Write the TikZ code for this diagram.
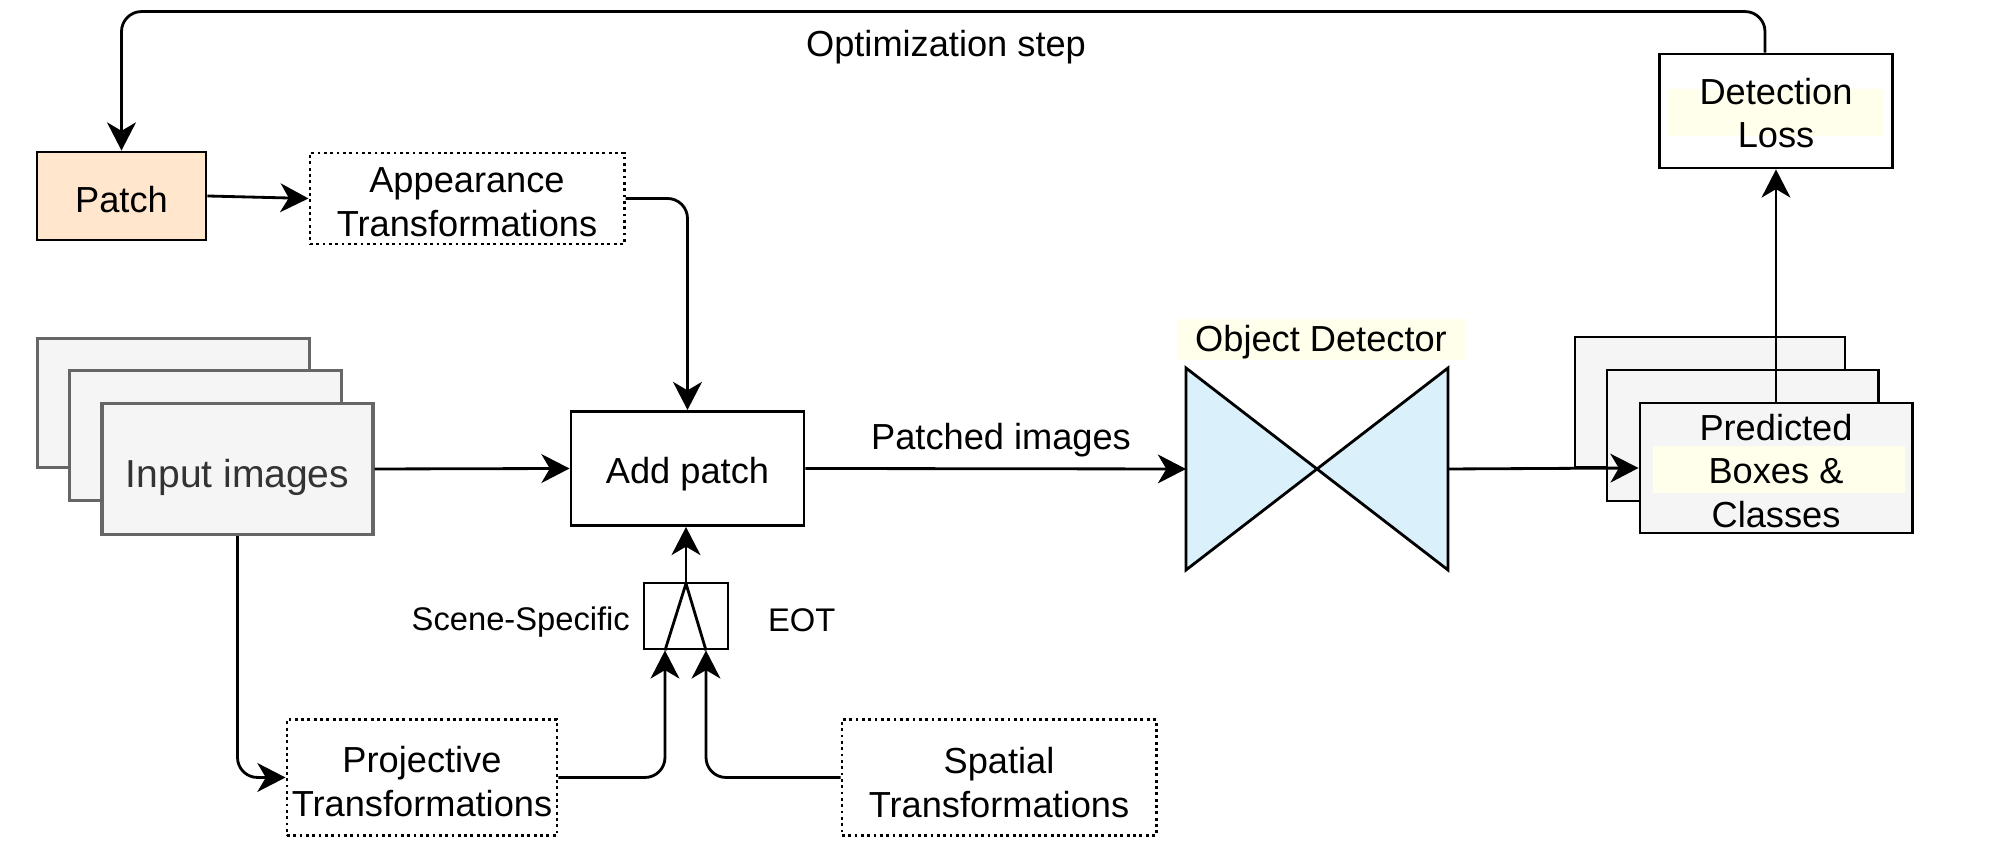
\documentclass[tikz,border=0pt]{standalone}
\usepackage{fontspec}
\setmainfont{Liberation Sans}
\usetikzlibrary{arrows.meta}
\definecolor{peach}{RGB}{255,230,204}
\definecolor{lgray}{RGB}{245,245,245}
\definecolor{dgray}{RGB}{102,102,102}
\definecolor{tgray}{RGB}{51,51,51}
\definecolor{lblue}{RGB}{218,240,250}
\definecolor{hilite}{RGB}{255,255,236}
\begin{document}
\begin{tikzpicture}[x=0.01cm,y=-0.01cm,
  every node/.style={font=\fontsize{10.3}{12.4}\selectfont, align=center, inner sep=0pt},
  box/.style={draw, line width=0.8pt},
  dotbox/.style={draw, densely dotted, line width=0.8pt},
  conn/.style={line width=0.8pt, -{Stealth[length=8pt,width=8.2pt,inset=2.4pt]}, rounded corners=0.2cm},
  plain/.style={line width=0.8pt},
  sidelbl/.style={font=\fontsize{9.3}{11}\selectfont},
  imgbox/.style={draw=dgray, fill=lgray, line width=0.9pt},
  predbox/.style={draw, fill=lgray, line width=0.8pt}]
\useasboundingbox (0,0) rectangle (2005,865);

% Patch and appearance
\node[box, fill=peach, minimum width=1.69cm, minimum height=0.88cm] (patch) at (121.5,196) {};
\node (patcht) at ([yshift=-0.04cm]patch.center) {Patch};
\node[dotbox, minimum width=3.14cm, minimum height=0.91cm] (app) at (467,198.5) {};
\node (appt) at ([yshift=-0.04cm]app.center) {Appearance\\Transformations};

% Input images stack
\node[imgbox, minimum width=2.72cm, minimum height=1.29cm] (inB) at (173.5,403) {};
\node[imgbox, minimum width=2.72cm, minimum height=1.30cm] (inM) at (205.5,435.5) {};
\node[imgbox, minimum width=2.71cm, minimum height=1.31cm] (inF) at (237.5,469) {};
\node[text=tgray, font=\fontsize{11.1}{13.5}\selectfont] (inFt) at ([yshift=-0.08cm]inF.center) {Input images};

% Add patch
\node[box, minimum width=2.33cm, minimum height=1.14cm] (add) at (687.5,468.5) {};
\node (addt) at ([yshift=-0.06cm]add.center) {Add patch};

% EOT mux
\node[box, minimum width=0.84cm, minimum height=0.66cm] (eot) at (686,616) {};
\coordinate (footL) at ([xshift=-0.21cm]eot.south);
\coordinate (footR) at ([xshift=0.20cm]eot.south);
\draw[plain] (footL) -- ([yshift=-0.02cm]eot.north) -- (footR);
\node[sidelbl, anchor=east] (ss) at ([xshift=-0.12cm,yshift=-0.06cm]eot.west) {Scene-Specific};
\node[sidelbl, anchor=west] (eotl) at ([xshift=0.38cm,yshift=-0.04cm]eot.east) {EOT};

% Projective and spatial
\node[dotbox, minimum width=2.70cm, minimum height=1.16cm] (proj) at (422,777.5) {};
\node (projt) at ([yshift=-0.04cm]proj.center) {Projective\\Transformations};
\node[dotbox, minimum width=3.14cm, minimum height=1.16cm] (spat) at (999,777.5) {};
\node (spatt) at ([yshift=-0.05cm]spat.center) {Spatial\\Transformations};

% Object detector
\coordinate (detL) at (1186,469);
\coordinate (detR) at (1448,469);
\coordinate (detC) at (1317,469);
\draw[plain, fill=lblue, line join=miter] (1186,368) -- (1186,570) -- (detC) -- cycle;
\draw[plain, fill=lblue, line join=miter] (1448,368) -- (1448,570) -- (detC) -- cycle;
\node[fill=hilite, minimum width=2.88cm, minimum height=0.41cm] (detlbl) at (1321,340) {};
\node (detlblt) at ([yshift=-0.025cm]detlbl.center) {Object Detector};

% Predicted stack
\node[predbox, minimum width=2.70cm, minimum height=1.30cm] (pB) at (1710,402) {};
\node[predbox, minimum width=2.71cm, minimum height=1.31cm] (pM) at (1742.5,435.5) {};
\node[predbox, minimum width=2.72cm, minimum height=1.30cm] (pF) at (1776,468) {};
\fill[hilite] (1653,446) rectangle (1905,493);
\node (pFt) at ([yshift=-0.03cm]pF.center) {Predicted\\Boxes \&\\Classes};

% Detection loss
\node[box, fill=white, minimum width=2.33cm, minimum height=1.14cm] (loss) at (1776,111) {};
\fill[hilite] (1668,89) rectangle (1883,136);
\node (losst) at ([yshift=-0.02cm]loss.center) {Detection\\Loss};

% Connectors
\draw[conn] ([xshift=-0.11cm]loss.north) -- ++(0,-41) -| (patch.north);
\node (opt) at (946,47.5) {Optimization step};
\draw[conn] (patch.east) -- (app.west);
\draw[conn] (app.east) -| (add.north);
\draw[conn] (inF.east) -- (add.west);
\draw[conn] (add.east) -- (detL);
\node (pi) at (1001,440) {Patched images};
\draw[conn] (detR) -- (pF.west);
\draw[conn] (pF.north) -- (loss.south);
\draw[conn] (eot.north) -- (eot.north |- add.south);
\draw[conn] (inF.south) |- (proj.west);
\draw[conn] (proj.east) -| (footL);
\draw[conn] (spat.west) -| (footR);
\end{tikzpicture}
\end{document}
